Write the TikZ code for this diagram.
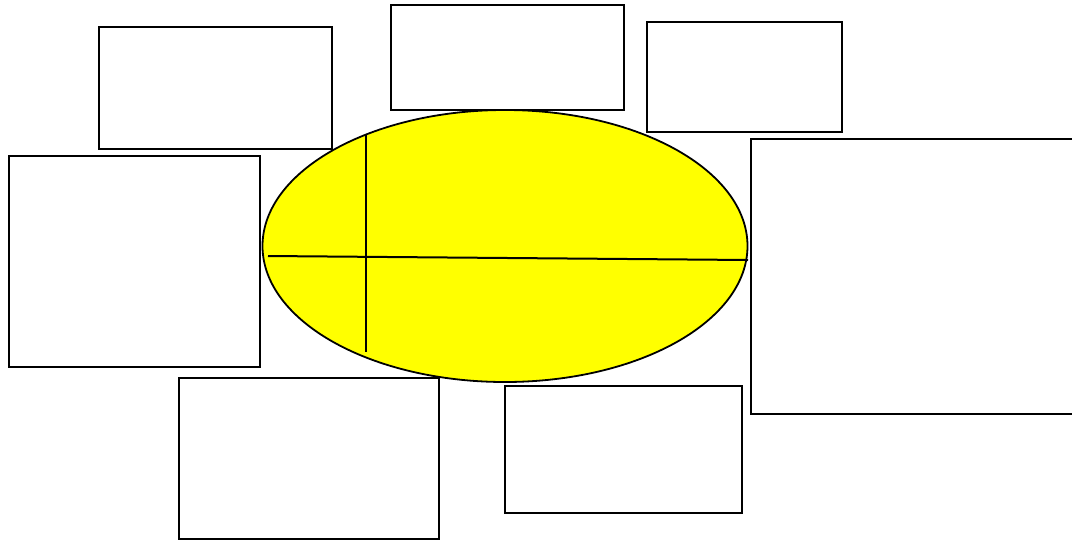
\documentclass[tikz,border=0pt]{standalone}
\usetikzlibrary{shapes.geometric}
\definecolor{ovalyellow}{RGB}{255,255,0}
\begin{document}
\begin{tikzpicture}[x=1pt,y=-1pt,
  box/.style={draw=black,line width=2pt,fill=white,rectangle,inner sep=0pt,anchor=north west},
  oval/.style={draw=black,line width=1.8pt,fill=ovalyellow,ellipse,inner sep=0pt},
  axis/.style={draw=black,line width=2pt}]
\useasboundingbox (0,0) rectangle (1072,539);
\node[box,minimum width=233pt,minimum height=122pt] (a) at (98,26) {};
\node[box,minimum width=233pt,minimum height=105pt] (b) at (390,4) {};
\node[box,minimum width=195pt,minimum height=110pt] (c) at (646,21) {};
\node[box,minimum width=251pt,minimum height=211pt] (d) at (8,155) {};
\node[box,minimum width=330pt,minimum height=275pt] (e) at (750,138) {};
\node[box,minimum width=260pt,minimum height=161pt] (f) at (178,377) {};
\node[box,minimum width=237pt,minimum height=127pt] (g) at (504,385) {};
\node[oval,minimum width=485pt,minimum height=272pt] (o) at (505,246) {};
\coordinate (h1) at (268,256);
\coordinate (h2) at (748,260);
\coordinate (v1) at (366,135);
\coordinate (v2) at (366,352);
\draw[axis] (h1) -- (h2);
\draw[axis] (v1) -- (v2);
\end{tikzpicture}
\end{document}
